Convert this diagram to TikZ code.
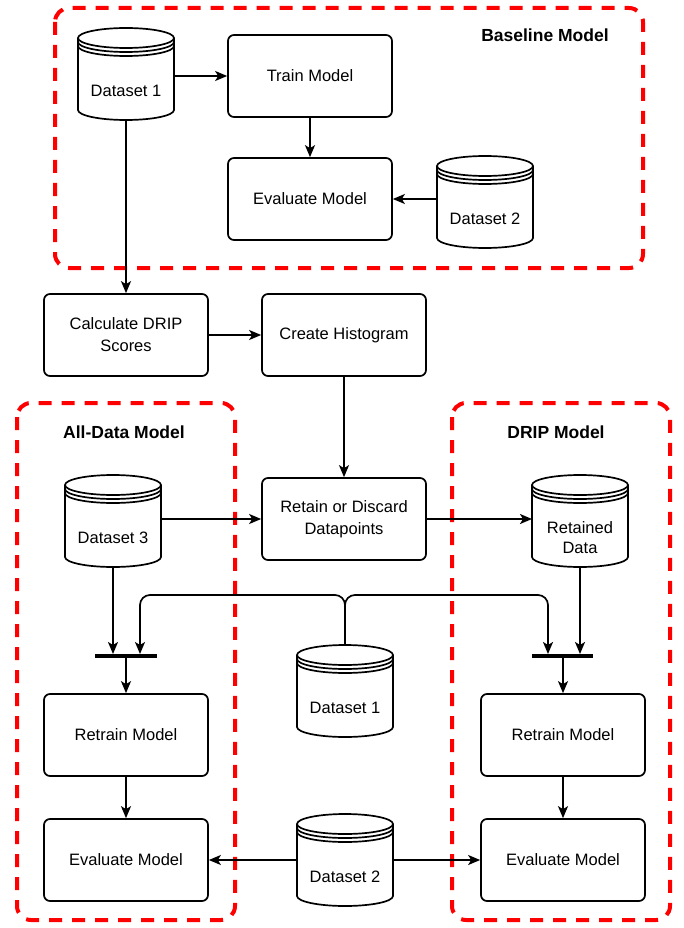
\documentclass[tikz,border=0pt]{standalone}
\usepackage{fontspec}
\setmainfont{Liberation Sans}
\usetikzlibrary{calc,arrows.meta}
\tikzset{
	box/.style={draw, line width=1.7pt, rounded corners=6pt, minimum width=164pt, minimum height=82pt, align=center, font=\fontsize{16.5}{22}\selectfont},
	arr/.style={line width=1.7pt, -{Stealth[length=12pt,width=10pt,inset=3pt]}},
	group/.style={draw=red, line width=4pt, dash pattern=on 13pt off 10pt, rounded corners=14pt},
	grouptitle/.style={font=\fontsize{17.5}{21}\bfseries\selectfont},
	bar/.style={line width=4pt},
	storebox/.style={minimum width=96pt, minimum height=92pt, inner sep=0pt, outer sep=0pt},
	storetext/.style={align=center, font=\fontsize{16.5}{20}\selectfont},
}
% datastore: (name)(x,y){text}
\def\datastore(#1)(#2,#3)#4{%
	\node[storebox] (#1) at (#2,#3) {};
	\draw[line width=1.7pt] (#2-48,#3-36) -- (#2-48,#3+36) arc[start angle=180, end angle=0, x radius=48, y radius=10] -- (#2+48,#3-36);
	\draw[line width=1.7pt] (#2,#3-36) ellipse[x radius=48, y radius=10];
	\draw[line width=1.7pt] (#2-48,#3-32) arc[start angle=180, end angle=0, x radius=48, y radius=10];
	\draw[line width=1.7pt] (#2-48,#3-28) arc[start angle=180, end angle=0, x radius=48, y radius=10];
	\node[storetext] at (#2,#3+17) {#4};
}

\begin{document}
\begin{tikzpicture}[x=1pt, y=-1pt]
	%%%%% START %%%%%
	\useasboundingbox (0,0) rectangle (683,928);

	% groups
	\draw[group] (55,8) rectangle (643,268);
	\draw[group] (17,403) rectangle (235,920);
	\draw[group] (452,403) rectangle (670,920);
	\node[grouptitle] (tBase) at (545,35) {Baseline Model};
	\node[grouptitle] (tAll) at (124,432) {All-Data Model};
	\node[grouptitle] (tDrip) at (556,432) {DRIP Model};

	% baseline
	\datastore(ds1)(126,74){Dataset 1}
	\node[box] (train) at (310,76) {Train Model};
	\node[box] (evalB) at (310,199) {Evaluate Model};
	\datastore(ds2)(485,202){Dataset 2}

	\draw[arr] (ds1.east |- train.west) -- (train.west);
	\draw[arr] (train) -- (evalB);
	\draw[arr] (ds2.west |- evalB.east) -- (evalB.east);

	% scores
	\node[box] (calc) at (126,335) {Calculate DRIP\\Scores};
	\node[box] (hist) at (344,335) {Create Histogram};
	\node[box] (retain) at (344,519) {Retain or Discard\\Datapoints};

	\draw[arr] (ds1) -- (calc);
	\draw[arr] (calc) -- (hist);
	\draw[arr] (hist) -- (retain);

	\datastore(ds3)(113,521){Dataset 3}
	\datastore(kept)(580,521){Retained\\Data}
	\draw[arr] (ds3.east |- retain.west) -- (retain.west);
	\draw[arr] (retain.east) -- (kept.west |- retain.east);

	% retrain
	\datastore(ds1b)(345,691){Dataset 1}
	\coordinate (hub) at (345,595);
	\coordinate (jL) at (126,656);
	\coordinate (jR) at (563,656);
	\draw[bar] (95,656) -- (157,656);
	\draw[bar] (532,656) -- (593,656);

	\draw[arr] (ds3) -- (113,654);
	\draw[arr] (kept) -- (580,654);
	\draw[arr, rounded corners=10pt] (ds1b.north) -- (hub) -| (140,654);
	\draw[arr, rounded corners=10pt] (ds1b.north) -- (hub) -| (548,654);

	\node[box] (retrainL) at (126,735) {Retrain Model};
	\node[box] (evalL) at (126,860) {Evaluate Model};
	\node[box] (retrainR) at (563,735) {Retrain Model};
	\node[box] (evalR) at (563,860) {Evaluate Model};

	\draw[arr] (jL) -- (retrainL);
	\draw[arr] (jR) -- (retrainR);
	\draw[arr] (retrainL) -- (evalL);
	\draw[arr] (retrainR) -- (evalR);

	\datastore(ds2b)(345,860){Dataset 2}
	\draw[arr] (ds2b.west) -- (evalL.east);
	\draw[arr] (ds2b.east) -- (evalR.west);
	%%%%% END %%%%%
\end{tikzpicture}
\end{document}
